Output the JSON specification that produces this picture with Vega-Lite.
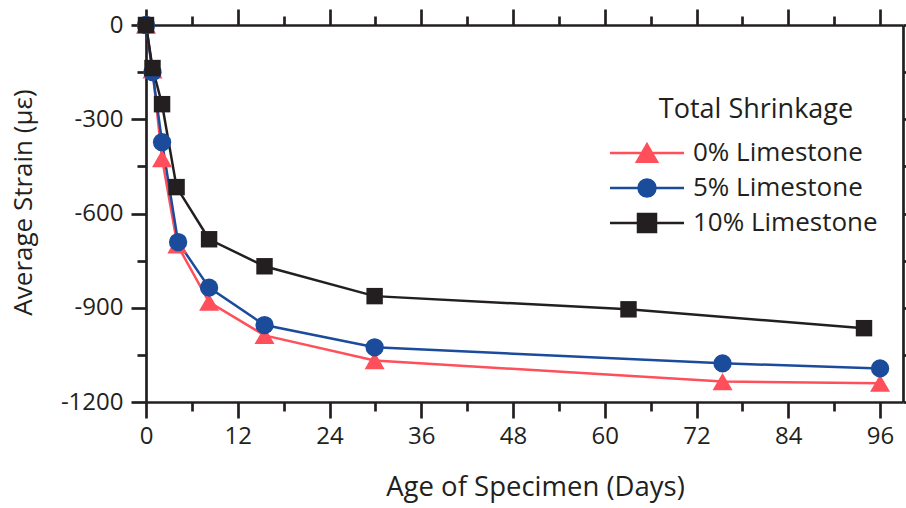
{
  "$schema": "https://vega.github.io/schema/vega-lite/v6.json",
  "width": 757,
  "height": 377,
  "autosize": "none",
  "padding": {"left": 146, "top": 25, "right": 3, "bottom": 106},
  "background": "white",
  "config": {
    "view": {"stroke": null},
    "font": "Open Sans",
    "axis": {
      "domainColor": "#231f20",
      "domainWidth": 2.7,
      "tickColor": "#231f20",
      "tickWidth": 2.7,
      "grid": false,
      "labelFont": "Open Sans",
      "labelFontSize": 24,
      "labelColor": "#231f20",
      "titleFont": "Open Sans",
      "titleFontSize": 26,
      "titleFontWeight": "normal",
      "titleColor": "#231f20"
    },
    "legend": {
      "orient": "none",
      "legendX": 488,
      "legendY": 72,
      "padding": 0,
      "titleFont": "Open Sans",
      "titleFontSize": 27,
      "titleFontWeight": "normal",
      "titleColor": "#231f20",
      "titleAnchor": "middle",
      "titleLimit": 400,
      "titlePadding": 16,
      "labelFont": "Open Sans",
      "labelFontSize": 26,
      "labelColor": "#231f20",
      "labelOffset": 33,
      "labelLimit": 400,
      "symbolSize": 400,
      "symbolStrokeWidth": 2.5,
      "symbolOpacity": 1,
      "rowPadding": 7
    }
  },
  "data": {
    "values": [
      {"series": "0% Limestone", "day": 0, "strain": 0},
      {"series": "0% Limestone", "day": 0.85, "strain": -143},
      {"series": "0% Limestone", "day": 2.1, "strain": -425},
      {"series": "0% Limestone", "day": 4.1, "strain": -700},
      {"series": "0% Limestone", "day": 8.25, "strain": -882},
      {"series": "0% Limestone", "day": 15.5, "strain": -988},
      {"series": "0% Limestone", "day": 29.9, "strain": -1068},
      {"series": "0% Limestone", "day": 75.4, "strain": -1135},
      {"series": "0% Limestone", "day": 96, "strain": -1140},
      {"series": "5% Limestone", "day": 0, "strain": 0},
      {"series": "5% Limestone", "day": 0.85, "strain": -150},
      {"series": "5% Limestone", "day": 2.1, "strain": -373},
      {"series": "5% Limestone", "day": 4.2, "strain": -691},
      {"series": "5% Limestone", "day": 8.25, "strain": -836},
      {"series": "5% Limestone", "day": 15.5, "strain": -955},
      {"series": "5% Limestone", "day": 29.9, "strain": -1026},
      {"series": "5% Limestone", "day": 75.4, "strain": -1077},
      {"series": "5% Limestone", "day": 96, "strain": -1093},
      {"series": "10% Limestone", "day": 0, "strain": 0},
      {"series": "10% Limestone", "day": 0.85, "strain": -137},
      {"series": "10% Limestone", "day": 2.1, "strain": -252},
      {"series": "10% Limestone", "day": 4.0, "strain": -516},
      {"series": "10% Limestone", "day": 8.25, "strain": -682},
      {"series": "10% Limestone", "day": 15.5, "strain": -768},
      {"series": "10% Limestone", "day": 29.9, "strain": -863},
      {"series": "10% Limestone", "day": 63.1, "strain": -905},
      {"series": "10% Limestone", "day": 93.9, "strain": -965}
    ]
  },
  "layer": [
    {
      "mark": {"type": "line", "strokeWidth": 2.5, "clip": false},
      "encoding": {
        "x": {
          "field": "day", "type": "quantitative",
          "scale": {"domain": [0, 99], "nice": false, "zero": false},
          "axis": {
            "orient": "bottom",
            "title": "Age of Specimen (Days)",
            "titleFontSize": 27.5,
            "values": [0, 6, 12, 18, 24, 30, 36, 42, 48, 54, 60, 66, 72, 78, 84, 90, 96],
            "tickSize": {"condition": {"test": "datum.value % 12 === 0", "value": 16}, "value": 9},
            "labelExpr": "datum.value % 12 === 0 ? datum.label : ''",
            "labelPadding": 6,
            "labelFlush": false,
            "labelOverlap": false,
            "titlePadding": 25,
            "titleX": 389
          }
        },
        "y": {
          "field": "strain", "type": "quantitative",
          "scale": {"domain": [-1200, 0], "nice": false, "zero": false},
          "axis": {
            "orient": "left",
            "title": "Average Strain (με)",
            "values": [-1200, -1050, -900, -750, -600, -450, -300, -150, 0],
            "tickSize": {"condition": {"test": "datum.value % 300 === 0", "value": 15}, "value": 9},
            "labelExpr": "datum.value % 300 === 0 ? (datum.value < 0 ? '-' + abs(datum.value) : '' + datum.value) : ''",
            "labelPadding": 8,
            "labelFlush": false,
            "labelOverlap": false,
            "titlePadding": 24,
            "titleY": 177
          }
        },
        "color": {
          "field": "series", "type": "nominal",
          "scale": {
            "domain": ["0% Limestone", "5% Limestone", "10% Limestone"],
            "range": ["#fe4f5b", "#1b4b9b", "#231f20"]
          },
          "legend": null
        }
      }
    },
    {
      "mark": {"type": "point", "filled": true, "opacity": 1, "clip": false},
      "encoding": {
        "x": {
          "field": "day", "type": "quantitative",
          "axis": {
            "orient": "top",
            "title": null,
            "labels": false,
            "values": [0, 6, 12, 18, 24, 30, 36, 42, 48, 54, 60, 66, 72, 78, 84, 90, 96],
            "tickSize": {"condition": {"test": "datum.value % 12 === 0", "value": 16}, "value": 9}
          }
        },
        "y": {
          "field": "strain", "type": "quantitative",
          "axis": {
            "orient": "right",
            "title": null,
            "labels": false,
            "values": [-1200, -1050, -900, -750, -600, -450, -300, -150, 0],
            "tickSize": {"condition": {"test": "datum.value % 300 === 0", "value": 15}, "value": 9}
          }
        },
        "color": {"field": "series", "type": "nominal", "legend": null},
        "shape": {
          "field": "series", "type": "nominal", "legend": null,
          "scale": {
            "domain": ["0% Limestone", "5% Limestone", "10% Limestone"],
            "range": ["triangle-up", "circle", "square"]
          }
        },
        "size": {
          "field": "series", "type": "nominal", "legend": null,
          "scale": {
            "domain": ["0% Limestone", "5% Limestone", "10% Limestone"],
            "range": [400, 270, 280]
          }
        }
      }
    },
    {
      "mark": {"type": "point", "filled": true, "opacity": 0, "size": 400, "clip": false},
      "encoding": {
        "x": {"field": "day", "type": "quantitative", "axis": null},
        "y": {"field": "strain", "type": "quantitative", "axis": null},
        "color": {"field": "series", "type": "nominal", "title": "Total Shrinkage"},
        "stroke": {
          "field": "series", "type": "nominal", "title": "Total Shrinkage",
          "scale": {
            "domain": ["0% Limestone", "5% Limestone", "10% Limestone"],
            "range": ["#fe4f5b", "#1b4b9b", "#231f20"]
          }
        },
        "shape": {
          "field": "series", "type": "nominal", "title": "Total Shrinkage",
          "scale": {
            "domain": ["0% Limestone", "5% Limestone", "10% Limestone"],
            "range": [
              "M-3.7,0H3.7M0,-0.87L1,0.87L-1,0.87Z",
              "M-3.7,0H3.7M0.85,0A0.85,0.85,0,1,1,-0.85,0A0.85,0.85,0,1,1,0.85,0Z",
              "M-3.7,0H3.7M-0.9,-0.9H0.9V0.9H-0.9Z"
            ]
          }
        }
      }
    }
  ],
  "resolve": {
    "axis": {"x": "independent", "y": "independent"},
    "scale": {"shape": "independent"},
    "legend": {"color": "independent", "shape": "independent", "stroke": "independent", "size": "independent"}
  }
}
